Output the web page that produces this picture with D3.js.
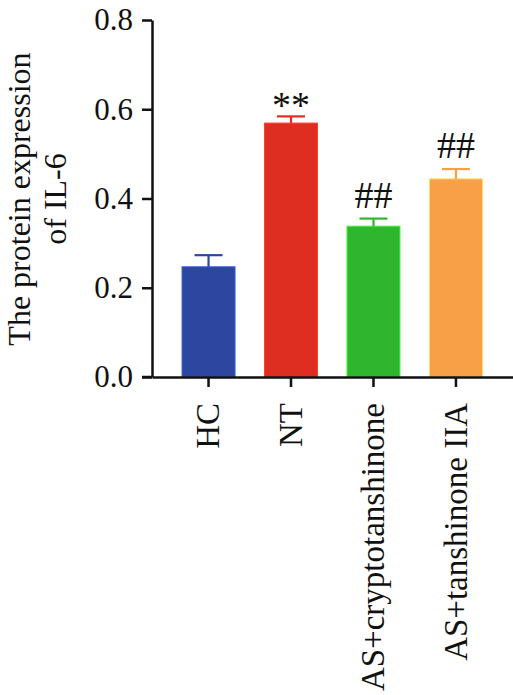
<!DOCTYPE html>
<html>
<head>
<meta charset="utf-8">
<script src="https://cdn.jsdelivr.net/npm/d3@7"></script>
<style>
  html, body { margin: 0; padding: 0; background: #fff; }
  svg { display: block; font-family: "Liberation Serif", "Times New Roman", serif; }
</style>
</head>
<body>
<div id="chart"></div>
<script>
"use strict";

var categories = ["HC", "NT", "AS+cryptotanshinone", "AS+tanshinone IIA"];
var means = [0.247, 0.569, 0.338, 0.444];
var errors = [0.026, 0.015, 0.017, 0.022];
var marks = ["", "**", "##", "##"];
var colors = ["#2d46a0", "#de2e22", "#30b52f", "#f8a047"];
var yTicks = [0.0, 0.2, 0.4, 0.6, 0.8];

var width = 513, height = 695;

var svg = d3.select("#chart").append("svg")
  .attr("width", width)
  .attr("height", height);

//scales
var x = d3.scaleBand()
  .domain(categories)
  .range([152, 512.5])
  .paddingInner(0.357)
  .paddingOuter(0.364);

var y = d3.scaleLinear()
  .domain([0, 0.8])
  .range([377, 20]);

var data = categories.map(function(c, i) {
  return { name: c, mean: means[i], err: errors[i], mark: marks[i], color: colors[i] };
});

//bars
var bars = svg.append("g").classed("bars", true)
  .selectAll(".bar").data(data).enter().append("g").classed("bar", true);

bars.append("rect").attr("x", function(d) { return x(d.name); })
  .attr("y", function(d) { return y(d.mean); })
  .attr("width", x.bandwidth())
  .attr("height", function(d) { return y(0) - y(d.mean); })
  .attr("fill", function(d) { return d.color; })
  .attr("stroke", function(d) { return d3.color(d.color).brighter(0.9); })
  .attr("stroke-width", 1);

//error bars (upper half only, like the original)
var cx = function(d) { return x(d.name) + x.bandwidth() / 2; };

bars.append("line")
  .attr("x1", cx).attr("x2", cx)
  .attr("y1", function(d) { return y(d.mean); })
  .attr("y2", function(d) { return y(d.mean + d.err); })
  .attr("stroke", function(d) { return d.color; })
  .attr("stroke-width", 2.2);

bars.append("line")
  .attr("x1", function(d) { return cx(d) - 14; })
  .attr("x2", function(d) { return cx(d) + 14; })
  .attr("y1", function(d) { return y(d.mean + d.err); })
  .attr("y2", function(d) { return y(d.mean + d.err); })
  .attr("stroke", function(d) { return d.color; })
  .attr("stroke-width", 2.2);

//significance marks
bars.append("text")
  .text(function(d) { return d.mark; })
  .attr("x", cx)
  .attr("y", function(d) { return y(d.mean + d.err) - (d.mark === "**" ? -2 : 11); })
  .attr("text-anchor", "middle")
  .attr("font-size", 38)
  .attr("fill", "#111");

//axes
var yAxis = svg.append("g")
  .attr("transform", "translate(152,0)")
  .call(d3.axisLeft(y).tickValues(yTicks).tickFormat(d3.format(".1f"))
    .tickSize(10).tickSizeOuter(0).tickPadding(9));

var xAxis = svg.append("g")
  .attr("transform", "translate(0,377)")
  .call(d3.axisBottom(x).tickSize(10).tickSizeOuter(0).tickPadding(0));

//extend the baseline left to meet the y ticks
svg.append("line")
  .attr("x1", 142).attr("x2", 152)
  .attr("y1", y(0)).attr("y2", y(0))
  .attr("stroke", "#111").attr("stroke-width", 2.5);

[yAxis, xAxis].forEach(function(a) {
  a.attr("font-family", null).attr("font-size", null);
  a.selectAll("path, line").attr("stroke", "#111").attr("stroke-width", 2.5);
  a.selectAll("text").attr("fill", "#111");
});

yAxis.selectAll("text").attr("font-size", 31);

xAxis.selectAll("text")
  .attr("font-size", 33)
  .attr("text-anchor", "end")
  .attr("transform", "rotate(-90)")
  .attr("x", -26)
  .attr("y", 0)
  .attr("dy", "0.33em");

//y title
var title = svg.append("text")
  .attr("transform", "translate(0,199) rotate(-90)")
  .attr("text-anchor", "middle")
  .attr("font-size", 32)
  .attr("fill", "#111");

title.append("tspan").attr("x", 0).attr("y", 30).text("The protein expression");
title.append("tspan").attr("x", 0).attr("y", 66).text("of IL-6");
</script>
</body>
</html>
